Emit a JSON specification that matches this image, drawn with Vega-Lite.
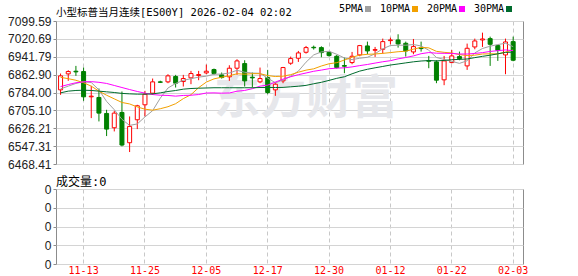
{
  "$schema": "https://vega.github.io/schema/vega-lite/v6.json",
  "background": "#ffffff",
  "padding": {"left": 7, "top": 4, "right": 0, "bottom": 0},
  "bounds": "flush",
  "spacing": 25,
  "config": {
    "view": {"stroke": "#8c8c8c", "strokeWidth": 1},
    "axis": {"domain": false, "title": null, "labelOverlap": false, "gridColor": "#d4d4d4", "gridWidth": 1, "tickColor": "#8c8c8c", "tickSize": 3, "labelPadding": 2, "labelColor": "#222222", "labelFont": "Liberation Sans", "labelFontSize": 12},
    "legend": {"orient": "none", "legendX": 307, "legendY": -17, "direction": "horizontal", "title": null, "symbolType": "square", "symbolSize": 36, "symbolStrokeWidth": 0, "labelFont": "DejaVu Sans Mono", "labelFontSize": 10, "labelColor": "#000000", "columnPadding": 8, "labelAlign": "right", "labelOffset": -10}
  },
  "data": {"values": [
    {"d":"11-10","o":6795.7,"h":6867.7,"l":6773.7,"c":6857.4,"5PMA":6800,"10PMA":6851,"20PMA":6810,"30PMA":6782.5,"v":0},
    {"d":"11-11","o":6866.2,"h":6882.3,"l":6835.4,"c":6876.5,"5PMA":6812,"10PMA":6845,"20PMA":6819,"30PMA":6790,"v":0},
    {"d":"11-12","o":6878.0,"h":6901.4,"l":6857.4,"c":6875.0,"5PMA":6824,"10PMA":6838,"20PMA":6827,"30PMA":6793,"v":0},
    {"d":"11-13","o":6876.5,"h":6894.1,"l":6747.3,"c":6764.9,"5PMA":6832,"10PMA":6827,"20PMA":6831,"30PMA":6794,"v":0},
    {"d":"11-14","o":6764.9,"h":6813.3,"l":6671.0,"c":6767.8,"5PMA":6828.2,"10PMA":6812,"20PMA":6832,"30PMA":6793,"v":0},
    {"d":"11-17","o":6762.0,"h":6801.6,"l":6656.3,"c":6693.0,"5PMA":6795.4,"10PMA":6790,"20PMA":6829,"30PMA":6790,"v":0},
    {"d":"11-18","o":6691.5,"h":6707.7,"l":6591.7,"c":6622.5,"5PMA":6744.6,"10PMA":6772,"20PMA":6824,"30PMA":6787,"v":0},
    {"d":"11-19","o":6628.4,"h":6703.3,"l":6612.2,"c":6693.0,"5PMA":6708.2,"10PMA":6756,"20PMA":6815,"30PMA":6784,"v":0},
    {"d":"11-20","o":6695.9,"h":6788.4,"l":6546.2,"c":6552.1,"5PMA":6665.6,"10PMA":6740,"20PMA":6806,"30PMA":6780,"v":0},
    {"d":"11-21","o":6562.3,"h":6678.3,"l":6521.2,"c":6634.3,"5PMA":6638.8,"10PMA":6733.5,"20PMA":6797,"30PMA":6778,"v":0},
    {"d":"11-24","o":6663.6,"h":6729.7,"l":6622.5,"c":6725.3,"5PMA":6645.2,"10PMA":6720.3,"20PMA":6788.5,"30PMA":6776.7,"v":0},
    {"d":"11-25","o":6729.7,"h":6791.3,"l":6678.3,"c":6776.6,"5PMA":6676.2,"10PMA":6710.4,"20PMA":6781,"30PMA":6776.7,"v":0},
    {"d":"11-26","o":6781.0,"h":6845.6,"l":6773.7,"c":6830.9,"5PMA":6703.8,"10PMA":6706.0,"20PMA":6775,"30PMA":6778,"v":0},
    {"d":"11-27","o":6831.0,"h":6836.0,"l":6826.0,"c":6829.0,"5PMA":6759.2,"10PMA":6712.4,"20PMA":6772,"30PMA":6782.5,"v":0},
    {"d":"11-28","o":6830.9,"h":6864.7,"l":6825.1,"c":6857.4,"5PMA":6803.8,"10PMA":6721.3,"20PMA":6771,"30PMA":6788.4,"v":0},
    {"d":"12-01","o":6854.5,"h":6861.8,"l":6806.0,"c":6825.1,"5PMA":6823.8,"10PMA":6734.5,"20PMA":6768,"30PMA":6792.8,"v":0},
    {"d":"12-02","o":6832.4,"h":6861.8,"l":6810.4,"c":6845.6,"5PMA":6837.6,"10PMA":6756.9,"20PMA":6771,"30PMA":6798.7,"v":0},
    {"d":"12-03","o":6848.6,"h":6879.4,"l":6820.7,"c":6867.7,"5PMA":6845.0,"10PMA":6774.4,"20PMA":6772,"30PMA":6801.6,"v":0},
    {"d":"12-04","o":6858.9,"h":6879.4,"l":6838.3,"c":6863.3,"5PMA":6851.8,"10PMA":6805.5,"20PMA":6775,"30PMA":6803,"v":0},
    {"d":"12-05","o":6870.6,"h":6907.3,"l":6864.7,"c":6877.9,"5PMA":6856.0,"10PMA":6829.9,"20PMA":6781.7,"30PMA":6804,"v":0},
    {"d":"12-08","o":6885.3,"h":6889.7,"l":6861.8,"c":6867.7,"5PMA":6864.6,"10PMA":6844.2,"20PMA":6782.3,"30PMA":6805,"v":0},
    {"d":"12-09","o":6861.8,"h":6872.1,"l":6845.6,"c":6850.0,"5PMA":6865.4,"10PMA":6851.5,"20PMA":6781.0,"30PMA":6805,"v":0},
    {"d":"12-10","o":6853.0,"h":6904.3,"l":6835.4,"c":6891.2,"5PMA":6870.0,"10PMA":6857.5,"20PMA":6781.8,"30PMA":6805,"v":0},
    {"d":"12-11","o":6891.2,"h":6930.8,"l":6861.8,"c":6923.4,"5PMA":6882.0,"10PMA":6866.9,"20PMA":6789.7,"30PMA":6805,"v":0},
    {"d":"12-12","o":6911.7,"h":6926.4,"l":6810.4,"c":6835.4,"5PMA":6873.4,"10PMA":6864.7,"20PMA":6793.0,"30PMA":6805,"v":0},
    {"d":"12-15","o":6851.5,"h":6872.1,"l":6806.0,"c":6848.6,"5PMA":6869.6,"10PMA":6867.1,"20PMA":6800.8,"30PMA":6805,"v":0},
    {"d":"12-16","o":6830.9,"h":6894.1,"l":6825.1,"c":6845.6,"5PMA":6868.8,"10PMA":6867.1,"20PMA":6812.0,"30PMA":6806,"v":0},
    {"d":"12-17","o":6850.0,"h":6883.8,"l":6776.6,"c":6784.0,"5PMA":6847.4,"10PMA":6858.7,"20PMA":6816.6,"30PMA":6806,"v":0},
    {"d":"12-18","o":6795.7,"h":6828.0,"l":6769.3,"c":6820.7,"5PMA":6827.0,"10PMA":6854.5,"20PMA":6830.0,"30PMA":6806,"v":0},
    {"d":"12-19","o":6835.4,"h":6897.0,"l":6825.1,"c":6894.1,"5PMA":6838.8,"10PMA":6856.1,"20PMA":6843.0,"30PMA":6806.5,"v":0},
    {"d":"12-22","o":6913.2,"h":6942.5,"l":6905.8,"c":6933.7,"5PMA":6855.8,"10PMA":6862.7,"20PMA":6853.5,"30PMA":6809.1,"v":0},
    {"d":"12-23","o":6935.2,"h":6967.5,"l":6919.0,"c":6958.7,"5PMA":6878.4,"10PMA":6873.6,"20PMA":6862.6,"30PMA":6811.8,"v":0},
    {"d":"12-24","o":6961.6,"h":6989.5,"l":6955.7,"c":6982.2,"5PMA":6918.0,"10PMA":6882.7,"20PMA":6870.1,"30PMA":6815.4,"v":0},
    {"d":"12-26","o":6983.6,"h":6991.0,"l":6973.4,"c":6981.4,"5PMA":6950.0,"10PMA":6888.5,"20PMA":6877.7,"30PMA":6822.6,"v":0},
    {"d":"12-29","o":6982.2,"h":6988.0,"l":6939.6,"c":6960.1,"5PMA":6963.2,"10PMA":6901.0,"20PMA":6882.9,"30PMA":6829.0,"v":0},
    {"d":"12-30","o":6961.6,"h":6964.5,"l":6942.5,"c":6946.9,"5PMA":6965.8,"10PMA":6910.8,"20PMA":6889.0,"30PMA":6837.5,"v":0},
    {"d":"12-31","o":6944.0,"h":6949.9,"l":6889.7,"c":6894.1,"5PMA":6952.8,"10PMA":6915.6,"20PMA":6891.4,"30PMA":6846.5,"v":0},
    {"d":"01-02","o":6902.9,"h":6938.1,"l":6869.2,"c":6900.0,"5PMA":6936.4,"10PMA":6927.2,"20PMA":6893.0,"30PMA":6853.4,"v":0},
    {"d":"01-05","o":6916.1,"h":6963.1,"l":6908.8,"c":6944.0,"5PMA":6929.0,"10PMA":6939.5,"20PMA":6897.0,"30PMA":6866.5,"v":0},
    {"d":"01-06","o":6949.9,"h":6993.9,"l":6944.0,"c":6991.0,"5PMA":6935.2,"10PMA":6949.2,"20PMA":6902.7,"30PMA":6878.4,"v":0},
    {"d":"01-07","o":6989.5,"h":7008.6,"l":6952.8,"c":6967.5,"5PMA":6939.4,"10PMA":6952.6,"20PMA":6907.7,"30PMA":6886.5,"v":0},
    {"d":"01-08","o":6970.4,"h":6985.1,"l":6941.1,"c":6973.4,"5PMA":6955.2,"10PMA":6954.0,"20PMA":6913.8,"30PMA":6893.0,"v":0},
    {"d":"01-09","o":6974.8,"h":7021.8,"l":6955.7,"c":7008.6,"5PMA":6977.0,"10PMA":6956.7,"20PMA":6919.7,"30PMA":6899.0,"v":0},
    {"d":"01-12","o":7013.0,"h":7026.2,"l":6996.8,"c":7015.9,"5PMA":6991.4,"10PMA":6960.2,"20PMA":6924.4,"30PMA":6905.2,"v":0},
    {"d":"01-13","o":7015.9,"h":7040.9,"l":6982.2,"c":6998.3,"5PMA":6992.8,"10PMA":6964.0,"20PMA":6932.5,"30PMA":6909.9,"v":0},
    {"d":"01-14","o":7001.2,"h":7008.6,"l":6942.5,"c":6967.5,"5PMA":6992.8,"10PMA":6966.1,"20PMA":6938.5,"30PMA":6914.7,"v":0},
    {"d":"01-15","o":6963.1,"h":7020.3,"l":6952.8,"c":6986.6,"5PMA":6995.6,"10PMA":6975.4,"20PMA":6945.5,"30PMA":6919.4,"v":0},
    {"d":"01-16","o":6982.2,"h":7008.6,"l":6964.5,"c":6977.8,"5PMA":6989.4,"10PMA":6983.2,"20PMA":6955.2,"30PMA":6923.0,"v":0},
    {"d":"01-19","o":6924.9,"h":6945.5,"l":6891.2,"c":6922.0,"5PMA":6970.6,"10PMA":6981.0,"20PMA":6960.3,"30PMA":6925.0,"v":0},
    {"d":"01-20","o":6919.0,"h":6926.4,"l":6825.1,"c":6838.3,"5PMA":6938.6,"10PMA":6965.7,"20PMA":6957.5,"30PMA":6923.7,"v":0},
    {"d":"01-21","o":6839.8,"h":6945.5,"l":6816.3,"c":6923.4,"5PMA":6929.6,"10PMA":6961.2,"20PMA":6956.9,"30PMA":6925.5,"v":0},
    {"d":"01-22","o":6916.1,"h":6971.9,"l":6913.2,"c":6945.5,"5PMA":6921.4,"10PMA":6958.5,"20PMA":6956.3,"30PMA":6928.7,"v":0},
    {"d":"01-23","o":6942.5,"h":6964.5,"l":6926.4,"c":6933.7,"5PMA":6912.6,"10PMA":6951.0,"20PMA":6953.9,"30PMA":6930.1,"v":0},
    {"d":"01-26","o":6901.4,"h":6999.8,"l":6883.8,"c":6979.2,"5PMA":6924.0,"10PMA":6947.3,"20PMA":6953.8,"30PMA":6932.0,"v":0},
    {"d":"01-27","o":6985.1,"h":7021.8,"l":6974.8,"c":7011.5,"5PMA":6958.8,"10PMA":6948.7,"20PMA":6956.4,"30PMA":6937.9,"v":0},
    {"d":"01-28","o":7016.0,"h":7048.2,"l":6985.1,"c":7020.3,"5PMA":6978.2,"10PMA":6953.9,"20PMA":6960.0,"30PMA":6943.6,"v":0},
    {"d":"01-29","o":7021.8,"h":7030.6,"l":6901.4,"c":6996.8,"5PMA":6988.4,"10PMA":6954.9,"20PMA":6965.2,"30PMA":6948.6,"v":0},
    {"d":"01-30","o":6991.0,"h":6993.9,"l":6923.4,"c":6970.4,"5PMA":6995.6,"10PMA":6954.1,"20PMA":6968.7,"30PMA":6954.8,"v":0},
    {"d":"02-02","o":6949.9,"h":7021.8,"l":6864.7,"c":7007.1,"5PMA":7001.2,"10PMA":6962.6,"20PMA":6971.8,"30PMA":6961.0,"v":0},
    {"d":"02-03","o":7008.6,"h":7030.6,"l":6922.0,"c":6926.4,"5PMA":6986.4,"10PMA":6971.4,"20PMA":6968.6,"30PMA":6962.1,"v":0}
  ]},
  "vconcat": [
    {
      "width": 467,
      "height": 143,
      "title": {"text": "小型标普当月连续[ES00Y] 2026-02-04 02:02", "anchor": "start", "frame": "group", "offset": -3, "font": "DejaVu Sans Mono, Noto Sans CJK SC", "fontSize": 10.5, "fontWeight": "normal", "color": "#000000"},
      "encoding": {
        "x": {"field": "d", "type": "ordinal",
          "scale": {"domain": ["11-10","11-11","11-12","11-13","11-14","11-17","11-18","11-19","11-20","11-21","11-24","11-25","11-26","11-27","11-28","12-01","12-02","12-03","12-04","12-05","12-08","12-09","12-10","12-11","12-12","12-15","12-16","12-17","12-18","12-19","12-22","12-23","12-24","12-26","12-29","12-30","12-31","01-02","01-05","01-06","01-07","01-08","01-09","01-12","01-13","01-14","01-15","01-16","01-19","01-20","01-21","01-22","01-23","01-26","01-27","01-28","01-29","01-30","02-02","02-03"], "paddingInner": 0, "paddingOuter": 0.44, "align": 0.11},
          "axis": {"values": ["11-13","11-25","12-05","12-17","12-30","01-12","01-22","02-03"], "bandPosition": 0.5, "grid": true, "gridDash": [4, 3], "gridColor": "#c8c8c8", "labels": false, "ticks": false, "domain": false}
        }
      },
      "layer": [
        {
          "data": {"values": [{"t": "东方财富"}]},
          "mark": {"type": "text", "font": "Noto Sans CJK SC", "fontSize": 46, "fontWeight": "bold", "color": "#e6e7eb", "align": "center", "baseline": "middle"},
          "encoding": {
            "x": {"datum": "12-24"},
            "y": {"datum": 6755, "type": "quantitative", "scale": {"domain": [6468.41, 7099.59], "nice": false, "zero": false}, "axis": {"values": [6468.41, 6547.31, 6626.21, 6705.10, 6784.00, 6862.90, 6941.79, 7020.69, 7099.59], "tickCount": 20, "format": ".2f", "grid": true, "labelOverlap": false}},
            "text": {"field": "t"}
          }
        },
        {
          "mark": {"type": "rule", "strokeWidth": 1},
          "encoding": {
            "y": {"field": "l", "type": "quantitative", "scale": {"domain": [6468.41, 7099.59], "nice": false, "zero": false},
              "axis": {"values": [6468.41, 6547.31, 6626.21, 6705.10, 6784.00, 6862.90, 6941.79, 7020.69, 7099.59], "tickCount": 20, "format": ".2f", "grid": true, "labelOverlap": false}},
            "y2": {"field": "h"},
            "stroke": {"condition": {"test": "datum.c >= datum.o", "value": "#ff0000"}, "value": "#008000"}
          }
        },
        {
          "mark": {"type": "bar", "size": 4, "strokeWidth": 1},
          "encoding": {
            "y": {"field": "o", "type": "quantitative", "scale": {"domain": [6468.41, 7099.59], "nice": false, "zero": false}},
            "y2": {"field": "c"},
            "fill": {"condition": {"test": "datum.c >= datum.o", "value": "#ffffff"}, "value": "#008000"},
            "stroke": {"condition": {"test": "datum.c >= datum.o", "value": "#ff0000"}, "value": "#008000"}
          }
        },
        {
          "transform": [{"fold": ["5PMA", "10PMA", "20PMA", "30PMA"], "as": ["ma", "val"]}],
          "mark": {"type": "line", "strokeWidth": 1},
          "encoding": {
            "y": {"field": "val", "type": "quantitative", "scale": {"domain": [6468.41, 7099.59], "nice": false, "zero": false}},
            "color": {"field": "ma", "type": "nominal",
              "scale": {"domain": ["5PMA", "10PMA", "20PMA", "30PMA"], "range": ["#a0a0a0", "#f2a000", "#ff00ff", "#006b2d"]},
              "legend": {"encode": {"symbols": {"update": {"fill": {"scale": "color", "field": "value"}, "stroke": {"value": "transparent"}}}}}
            }
          }
        }
      ]
    },
    {
      "width": 467,
      "height": 75,
      "title": {"text": "成交量:0", "anchor": "start", "frame": "group", "offset": -6, "font": "DejaVu Sans Mono, Noto Sans CJK SC", "fontSize": 12, "fontWeight": "normal", "color": "#000000"},
      "mark": {"type": "bar", "size": 4, "color": "#008000"},
      "encoding": {
        "x": {"field": "d", "type": "ordinal",
          "scale": {"domain": ["11-10","11-11","11-12","11-13","11-14","11-17","11-18","11-19","11-20","11-21","11-24","11-25","11-26","11-27","11-28","12-01","12-02","12-03","12-04","12-05","12-08","12-09","12-10","12-11","12-12","12-15","12-16","12-17","12-18","12-19","12-22","12-23","12-24","12-26","12-29","12-30","12-31","01-02","01-05","01-06","01-07","01-08","01-09","01-12","01-13","01-14","01-15","01-16","01-19","01-20","01-21","01-22","01-23","01-26","01-27","01-28","01-29","01-30","02-02","02-03"], "paddingInner": 0, "paddingOuter": 0.44, "align": 0.11},
          "axis": {"values": ["11-13","11-25","12-05","12-17","12-30","01-12","01-22","02-03"], "bandPosition": 0.5, "grid": true, "gridDash": [4, 3], "gridColor": "#c8c8c8", "ticks": false, "domain": false, "labelAngle": 0, "labelPadding": 1, "labelColor": "#ff0000", "labelFont": "DejaVu Sans Mono", "labelFontSize": 10}
        },
        "y": {"field": "v", "type": "quantitative", "scale": {"domain": [0, 4], "nice": false, "zero": true},
          "axis": {"values": [0, 1, 2, 3, 4], "tickCount": 20, "labelExpr": "'0'", "grid": true, "labelOverlap": false}}
      }
    }
  ]
}
